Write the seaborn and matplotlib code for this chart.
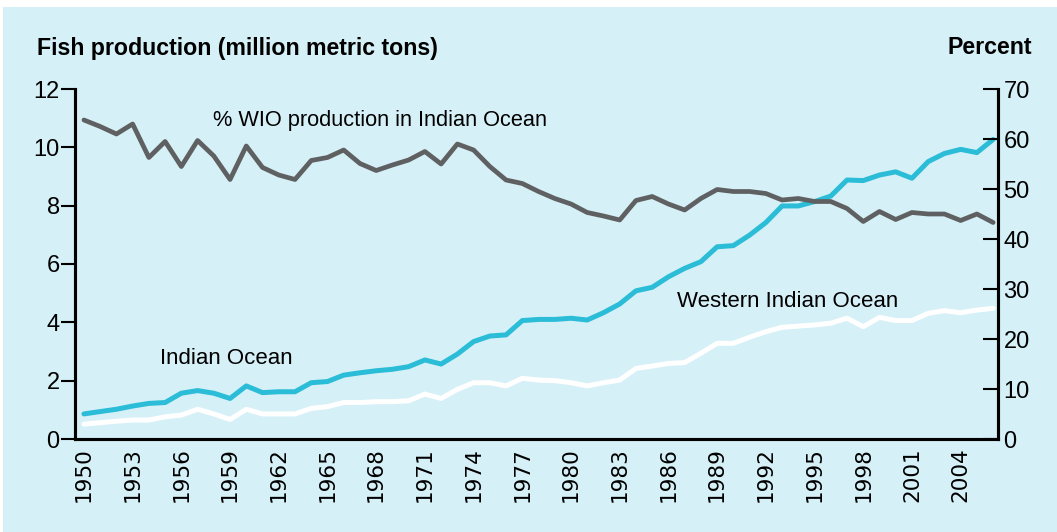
import matplotlib
matplotlib.use("Agg")
import matplotlib.pyplot as plt
import seaborn as sns
import pandas as pd
from matplotlib.patches import Rectangle

# Data
years = list(range(1950, 2007))

indian_ocean = [0.86, 0.94, 1.02, 1.13, 1.22, 1.25, 1.57, 1.66, 1.57, 1.39,
                1.82, 1.59, 1.62, 1.62, 1.93, 1.97, 2.19, 2.27, 2.34, 2.39,
                2.48, 2.71, 2.57, 2.91, 3.34, 3.53, 3.57, 4.06, 4.10, 4.10,
                4.14, 4.08, 4.33, 4.63, 5.08, 5.20, 5.56, 5.85, 6.08, 6.59,
                6.63, 6.99, 7.42, 7.99, 7.99, 8.14, 8.33, 8.88, 8.86, 9.05,
                9.16, 8.94, 9.51, 9.79, 9.93, 9.82, 10.27]

western_indian_ocean = [0.51, 0.56, 0.61, 0.65, 0.65, 0.76, 0.82, 1.02, 0.86, 0.67,
                        1.02, 0.86, 0.86, 0.86, 1.05, 1.11, 1.25, 1.25, 1.28, 1.28,
                        1.31, 1.54, 1.39, 1.70, 1.93, 1.93, 1.82, 2.08, 2.02, 2.00,
                        1.93, 1.82, 1.93, 2.02, 2.42, 2.50, 2.59, 2.62, 2.94, 3.28,
                        3.28, 3.49, 3.68, 3.83, 3.87, 3.91, 3.97, 4.14, 3.85, 4.17,
                        4.06, 4.06, 4.31, 4.40, 4.33, 4.42, 4.48]

pct_wio = [63.8, 62.5, 61.0, 63.0, 56.3, 59.5, 54.5, 59.7, 56.6, 51.9,
           58.6, 54.3, 52.8, 51.9, 55.7, 56.3, 57.8, 55.1, 53.7, 54.8,
           55.8, 57.5, 55.0, 59.0, 57.8, 54.5, 51.8, 51.1, 49.5, 48.1,
           47.0, 45.3, 44.6, 43.8, 47.7, 48.5, 47.0, 45.8, 48.1, 49.9,
           49.5, 49.5, 49.1, 47.8, 48.1, 47.5, 47.5, 46.1, 43.5, 45.5,
           43.9, 45.3, 45.0, 45.0, 43.7, 45.0, 43.3]

left_ticks = [0, 2, 4, 6, 8, 10, 12]
right_ticks = [0, 10, 20, 30, 40, 50, 60, 70]
year_ticks = list(range(1950, 2005, 3))

df = pd.DataFrame({"year": years, "io": indian_ocean,
                   "wio": western_indian_ocean, "pct": pct_wio})

bg = "#d5f0f7"
cyan = "#2bbdd7"
gray = "#5f6062"
label_font = ["Liberation Sans", "DejaVu Sans"]

sns.set_theme(style="white")
plt.rcParams["font.family"] = ["DejaVu Sans"]

fig = plt.figure(figsize=(10.57, 5.32), dpi=100)
fig.patch.set_facecolor(bg)
# white strip at the top and left edge of the picture
fig.patches.append(Rectangle((0, 525 / 532), 1, 7 / 532, transform=fig.transFigure,
                             facecolor="white", edgecolor="none", zorder=-5))
fig.patches.append(Rectangle((0, 0), 3 / 1057, 1, transform=fig.transFigure,
                             facecolor="white", edgecolor="none", zorder=-5))

ax = fig.add_axes([75 / 1057, 1 - 439 / 532, (998 - 75) / 1057, (439 - 89) / 532])
ax.set_facecolor("none")
ax2 = ax.twinx()
ax2.set_facecolor("none")

sns.lineplot(data=df, x="year", y="wio", ax=ax, color="white", linewidth=3.6)
sns.lineplot(data=df, x="year", y="io", ax=ax, color=cyan, linewidth=3.6)
sns.lineplot(data=df, x="year", y="pct", ax=ax2, color=gray, linewidth=3.4)

ax.set_xlim(1949.45, 2006.3)
ax.set_ylim(0, 12)
ax2.set_ylim(0, 70)
ax.set_xlabel("")
ax.set_ylabel("")
ax2.set_ylabel("")

ax.set_yticks(left_ticks)
ax.set_yticklabels([str(t) for t in left_ticks], family=label_font, fontsize=17)
ax2.set_yticks(right_ticks)
ax2.set_yticklabels([str(t) for t in right_ticks], family=label_font, fontsize=17)
ax.set_xticks(year_ticks)
ax.set_xticklabels([str(t) for t in year_ticks], rotation=90, fontsize=15.5)

ax.tick_params(axis="y", direction="out", length=10, width=1.5, pad=1, colors="black")
ax.tick_params(axis="x", length=0, pad=6, colors="black")
ax2.tick_params(axis="y", direction="in", length=11, width=1.5, pad=4, colors="black")

for a in (ax, ax2):
    a.spines["top"].set_visible(False)
    for s in ("left", "right", "bottom"):
        a.spines[s].set_linewidth(2.2)
        a.spines[s].set_color("black")

# Annotations
ax2.text(1957.95, 63.8, "% WIO production in Indian Ocean", family=label_font,
         fontsize=15.7, va="center", ha="left", color="black")
ax.text(1954.7, 2.76, "Indian Ocean", family=label_font, fontsize=16,
        va="center", ha="left", color="black")
ax.text(1986.55, 4.7, "Western Indian Ocean", family=label_font, fontsize=16,
        va="center", ha="left", color="black")

fig.text(37 / 1057, 1 - 48 / 532, "Fish production (million metric tons)",
         family=label_font, fontsize=16.7, fontweight="bold", va="center",
         ha="left", color="black")
fig.text(1032 / 1057, 1 - 48 / 532, "Percent", family=label_font, fontsize=16.7,
         fontweight="bold", va="center", ha="right", color="black")

fig.savefig("out.png", dpi=100, facecolor=fig.get_facecolor())
plt.close(fig)
